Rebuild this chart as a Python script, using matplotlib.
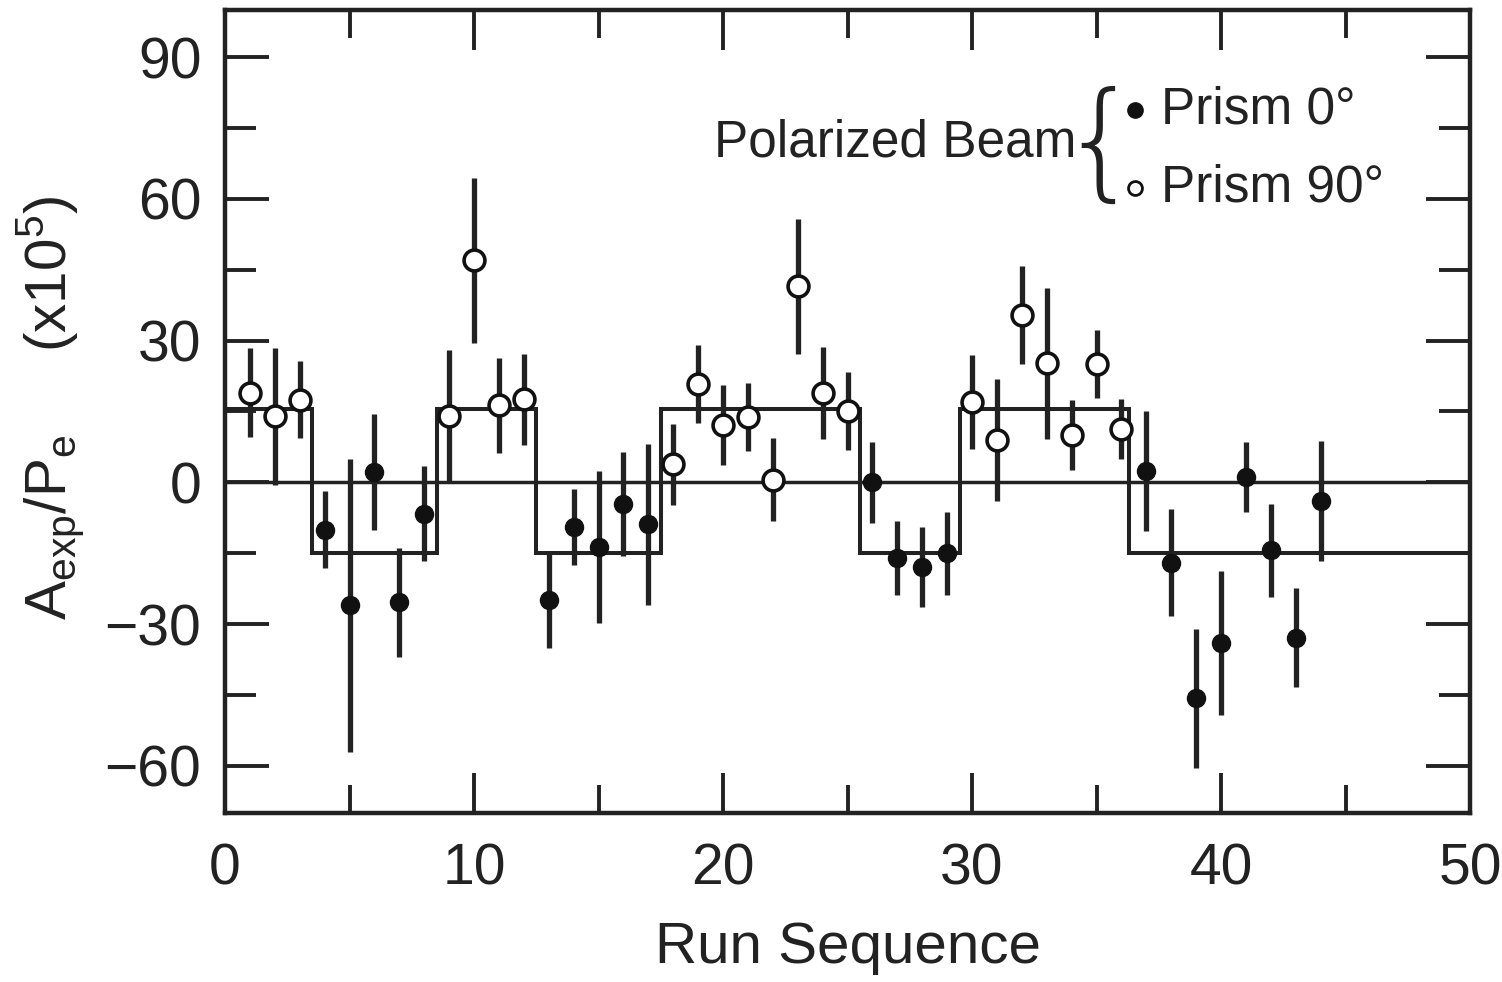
import numpy as np
import matplotlib
matplotlib.use("Agg")
import matplotlib.pyplot as plt
from matplotlib.ticker import MultipleLocator

plt.rcParams['font.family'] = ['Liberation Sans', 'DejaVu Sans']
plt.rcParams['mathtext.fontset'] = 'custom'
plt.rcParams['mathtext.rm'] = 'Liberation Sans'

# run number, asymmetry (x10^5), error, prism setting (0 = filled, 90 = open)
runs = np.arange(1, 45)
asym = [19, 14, 17.5, -10, -26, 2.2, -25.4, -6.6, 14, 47,
        16.3, 17.6, -25, -9.5, -13.7, -4.6, -8.9, 3.8, 20.8, 12.1,
        13.8, 0.6, 41.5, 18.9, 15.1, 0, -16, -17.9, -15, 17,
        9, 35.4, 25.2, 10.1, 25.1, 11.3, 2.4, -17, -45.7, -34,
        1.2, -14.4, -32.9, -4]
err = [9.5, 14.5, 8.2, 8.2, 31, 12.3, 11.5, 10, 14, 17.5,
       10, 9.6, 10, 8, 16, 11, 17, 8.5, 8.3, 8.5,
       7.2, 8.8, 14.3, 9.7, 8.3, 8.6, 7.9, 8.5, 8.8, 10,
       12.9, 10.3, 16, 7.4, 7.2, 6.3, 12.8, 11.3, 14.7, 15.3,
       7.4, 9.9, 10.5, 12.7]
prism = [90, 90, 90, 0, 0, 0, 0, 0, 90, 90,
         90, 90, 0, 0, 0, 0, 0, 90, 90, 90,
         90, 90, 90, 90, 90, 0, 0, 0, 0, 90,
         90, 90, 90, 90, 90, 90, 0, 0, 0, 0,
         0, 0, 0, 0]

# expected asymmetry sign flips with the prism
step_edges = [0, 3.5, 8.5, 12.5, 17.5, 25.5, 29.5, 36.3, 50]
step_levels = [15.5, -15, 15.5, -15, 15.5, -15, 15.5, -15]

asym = np.array(asym)
err = np.array(err)
prism = np.array(prism)

fig = plt.figure(figsize=(15.02, 9.82), dpi=100)
ax = fig.add_axes([225/1502, 1-813/982, 1245/1502, 803/982])

ax.axhline(0, color='#222', lw=2.5, zorder=1)
ax.stairs(step_levels, step_edges, baseline=None, color='#222', lw=2.9, zorder=2)

ax.errorbar(runs, asym, yerr=err, fmt='none', ecolor='#222', elinewidth=3.8,
            capsize=0, zorder=3)
f = prism == 0
o = prism == 90
ax.plot(runs[f], asym[f], 'o', ms=13, color='#111', zorder=4)
ax.plot(runs[o], asym[o], 'o', ms=15, mfc='white', mec='#111', mew=2.6, zorder=4)

ax.set_xlim(0, 50)
ax.set_ylim(-70, 100)
ax.xaxis.set_major_locator(MultipleLocator(10))
ax.xaxis.set_minor_locator(MultipleLocator(5))
ax.yaxis.set_major_locator(MultipleLocator(30))
ax.yaxis.set_minor_locator(MultipleLocator(15))
ax.set_yticks([-60, -30, 0, 30, 60, 90])

ax.tick_params(which='both', direction='in', top=True, right=True, width=2.8,
               color='#222', labelsize=41, labelcolor='#222')
ax.tick_params(axis='y', which='major', length=32, pad=17)
ax.tick_params(axis='y', which='minor', length=22)
ax.tick_params(axis='x', which='major', length=29, pad=21)
ax.tick_params(axis='x', which='minor', length=20)
for s in ax.spines.values():
    s.set_linewidth(3.2)
    s.set_color('#222')

ax.set_xlabel('Run Sequence', fontsize=42, color='#222', labelpad=18)
fig.text(50/1502, 1-408/982,
         r'A$_{\mathregular{exp}}$/P$_{\mathregular{e}}$     (x10$^{\mathregular{5}}$)',
         rotation=90, ha='center', va='center', fontsize=42, color='#222')

# legend drawn like the original: label, brace, two entries
ax.text(0.684, 0.834, 'Polarized Beam', transform=ax.transAxes, ha='right',
        va='center', fontsize=37, color='#222')
ax.text(0.703, 0.828, '{', transform=ax.transAxes, ha='center', va='center',
        fontsize=92, color='#222', family='DejaVu Sans', fontweight='light')
ax.plot([0.731], [0.875], 'o', ms=11, color='#111', transform=ax.transAxes,
        clip_on=False)
ax.plot([0.731], [0.778], 'o', ms=10, mfc='white', mec='#111', mew=2.0,
        transform=ax.transAxes, clip_on=False)
ax.text(0.752, 0.875, 'Prism 0°', transform=ax.transAxes, ha='left',
        va='center', fontsize=37, color='#222')
ax.text(0.752, 0.778, 'Prism 90°', transform=ax.transAxes, ha='left',
        va='center', fontsize=37, color='#222')

fig.savefig('out.png', dpi=100)
